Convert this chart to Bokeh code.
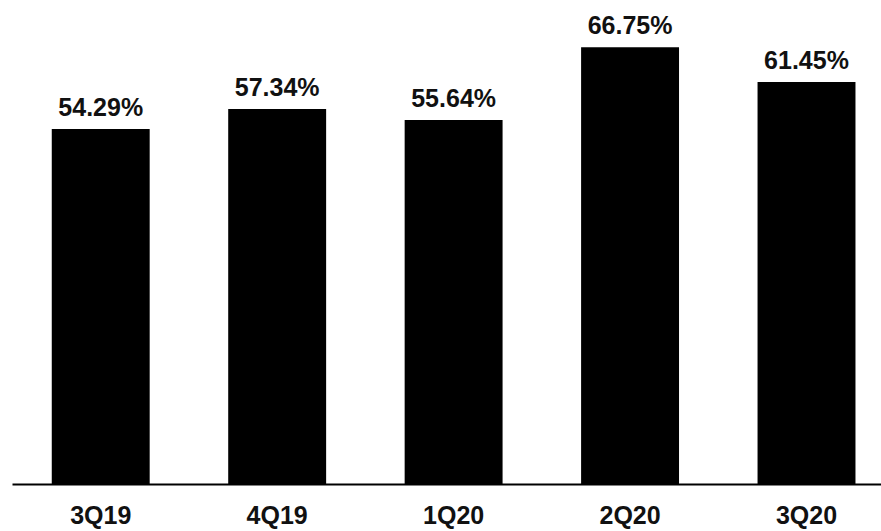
from bokeh.plotting import figure
from bokeh.models import ColumnDataSource, Range1d, LabelSet, FixedTicker
from bokeh.core.properties import value
from bokeh.embed import file_html
from bokeh.resources import INLINE

categories = ["3Q19", "4Q19", "1Q20", "2Q20", "3Q20"]
values = [54.29, 57.34, 55.64, 66.75, 61.45]
labels = ["54.29%", "57.34%", "55.64%", "66.75%", "61.45%"]

FONT = "Liberation Sans, Arial, sans-serif"

xs = list(range(len(categories)))
src = ColumnDataSource(dict(x=xs, top=values, label=labels))

p = figure(width=881, height=531, output_backend="svg", toolbar_location=None,
           x_range=Range1d(-0.5, 4.425), y_range=Range1d(0, 73.9),
           min_border_left=12, min_border_right=0, min_border_top=0, min_border_bottom=44)
p.outline_line_color = None
p.grid.visible = False
p.background_fill_color = "white"
p.border_fill_color = "white"

p.vbar(x="x", top="top", bottom=0, width=0.555, source=src, color="black", line_color=None)

labs = LabelSet(x="x", y="top", text="label", source=src, y_offset=13,
                text_align="center", text_baseline="alphabetic",
                text_font=value(FONT), text_font_style="bold",
                text_font_size="25px", text_color="#111111")
p.add_layout(labs)

p.yaxis.visible = False
ax = p.xaxis[0]
ax.ticker = FixedTicker(ticks=xs)
ax.major_label_overrides = {i: c for i, c in zip(xs, categories)}
ax.axis_line_color = "black"
ax.axis_line_width = 2
ax.major_tick_line_color = None
ax.minor_tick_line_color = None
ax.major_label_standoff = 10
ax.major_label_text_font = "Arial"
ax.major_label_text_font_style = "bold"
ax.major_label_text_font_size = "25px"
ax.major_label_text_color = "#111111"

open("out.html", "w").write(file_html(p, INLINE))
